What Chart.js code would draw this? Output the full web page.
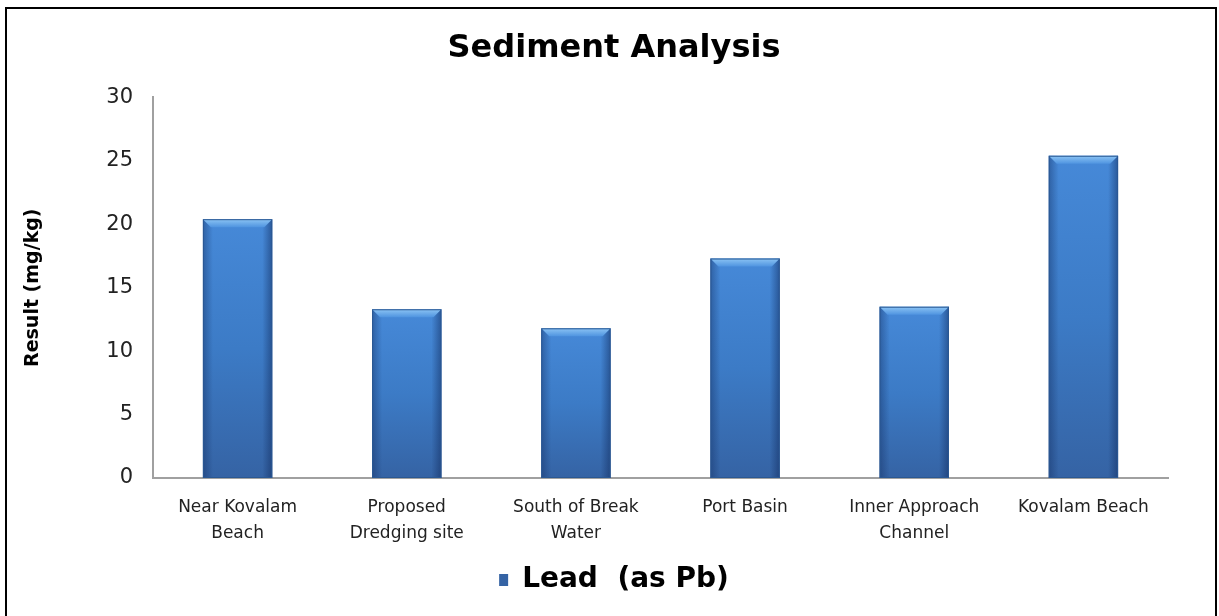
<!DOCTYPE html>
<html>
<head>
<meta charset="utf-8">
<script src="https://cdn.jsdelivr.net/npm/chart.js@4.4.1/dist/chart.umd.min.js"></script>
<style>
  html, body { margin: 0; padding: 0; background: #fff; }
  #wrap { position: relative; width: 1219px; height: 616px; overflow: hidden; }
  #frame { position: absolute; left: 5px; top: 7px; right: 2px; bottom: -10px; border: 2px solid #000; pointer-events: none; }
</style>
</head>
<body>
<div id="wrap">
  <canvas id="chart" width="1219" height="616"></canvas>
  <div id="frame"></div>
</div>
<script>
const categories = [
  ['Near Kovalam', 'Beach'],
  ['Proposed', 'Dredging site'],
  ['South of Break', 'Water'],
  ['Port Basin'],
  ['Inner Approach', 'Channel'],
  ['Kovalam Beach']
];
const leadValues = [20.4, 13.3, 11.8, 17.3, 13.5, 25.4];
const yTicks = [0, 5, 10, 15, 20, 25, 30];

const FONT = '"DejaVu Sans", Verdana, sans-serif';

// vertical gradient per bar, lighter at the top
function barFill(ctx) {
  const chart = ctx.chart;
  const y = chart.scales.y;
  if (!chart.chartArea || !y || ctx.raw == null) return '#3b78c8';
  const top = y.getPixelForValue(ctx.raw);
  const bottom = y.getPixelForValue(0);
  const g = chart.ctx.createLinearGradient(0, top, 0, bottom);
  g.addColorStop(0, '#4689d8');
  g.addColorStop(0.5, '#3c7bc6');
  g.addColorStop(1, '#3563a4');
  return g;
}

// bevel look: top chamfer, darker sides, outline
const bevelPlugin = {
  id: 'bevel',
  afterDatasetsDraw(chart) {
    const c = chart.ctx;
    chart.getDatasetMeta(0).data.forEach(bar => {
      const { x, y, base, width } = bar.getProps(['x', 'y', 'base', 'width'], true);
      const l = x - width / 2, r = x + width / 2, b = 8, h = base - y;
      c.save();
      let g = c.createLinearGradient(l, 0, l + 10, 0);
      g.addColorStop(0, 'rgba(15,40,90,0.4)');
      g.addColorStop(1, 'rgba(15,40,90,0)');
      c.fillStyle = g;
      c.fillRect(l, y, 10, h);
      g = c.createLinearGradient(r - 10, 0, r, 0);
      g.addColorStop(0, 'rgba(15,40,90,0)');
      g.addColorStop(1, 'rgba(15,40,90,0.5)');
      c.fillStyle = g;
      c.fillRect(r - 10, y, 10, h);
      c.beginPath();
      c.moveTo(l, y);
      c.lineTo(r, y);
      c.lineTo(r - b, y + b);
      c.lineTo(l + b, y + b);
      c.closePath();
      g = c.createLinearGradient(0, y, 0, y + b);
      g.addColorStop(0, '#8cc4f4');
      g.addColorStop(1, '#4f94e0');
      c.fillStyle = g;
      c.fill();
      c.strokeStyle = '#2a5893';
      c.lineWidth = 1;
      c.strokeRect(l + 0.5, y + 0.5, width - 1, h - 1);
      c.restore();
    });
  }
};

new Chart(document.getElementById('chart').getContext('2d'), {
  type: 'bar',
  data: {
    labels: categories,
    datasets: [{
      label: 'Lead  (as Pb)',
      data: leadValues,
      backgroundColor: barFill,
      borderWidth: 0,
      categoryPercentage: 1,
      barPercentage: 0.41
    }]
  },
  options: {
    responsive: false,
    animation: false,
    devicePixelRatio: 1,
    layout: { padding: { top: 10, left: 60, right: 51, bottom: 12 } },
    plugins: {
      title: {
        display: true,
        text: 'Sediment Analysis',
        color: '#000',
        font: { family: FONT, size: 32, weight: 'bold' },
        padding: { top: 19, bottom: 30 }
      },
      legend: {
        position: 'bottom',
        labels: {
          color: '#000',
          font: { family: FONT, size: 28, weight: 'bold' },
          boxWidth: 9,
          boxHeight: 12,
          padding: 10
        }
      },
      tooltip: { enabled: false }
    },
    scales: {
      x: {
        grid: { display: false },
        border: { display: true, color: '#a0a0a0', width: 2 },
        ticks: {
          color: '#222',
          font: { family: FONT, size: 17, lineHeight: 1.55 },
          padding: 8,
          maxRotation: 0,
          autoSkip: false
        },
        afterFit: s => { s.height = 78; }
      },
      y: {
        min: 0,
        max: 30,
        grid: { display: false },
        border: { display: true, color: '#a0a0a0', width: 2 },
        ticks: { color: '#222', font: { family: FONT, size: 21 }, padding: 12 },
        afterBuildTicks: s => { s.ticks = yTicks.map(v => ({ value: v })); },
        afterFit: s => { s.width = 93; },
        title: {
          display: true,
          text: 'Result (mg/kg)',
          color: '#000',
          font: { family: FONT, size: 19, weight: 'bold' },
          padding: { top: -38 }
        }
      }
    }
  },
  plugins: [bevelPlugin]
});
</script>
</body>
</html>
